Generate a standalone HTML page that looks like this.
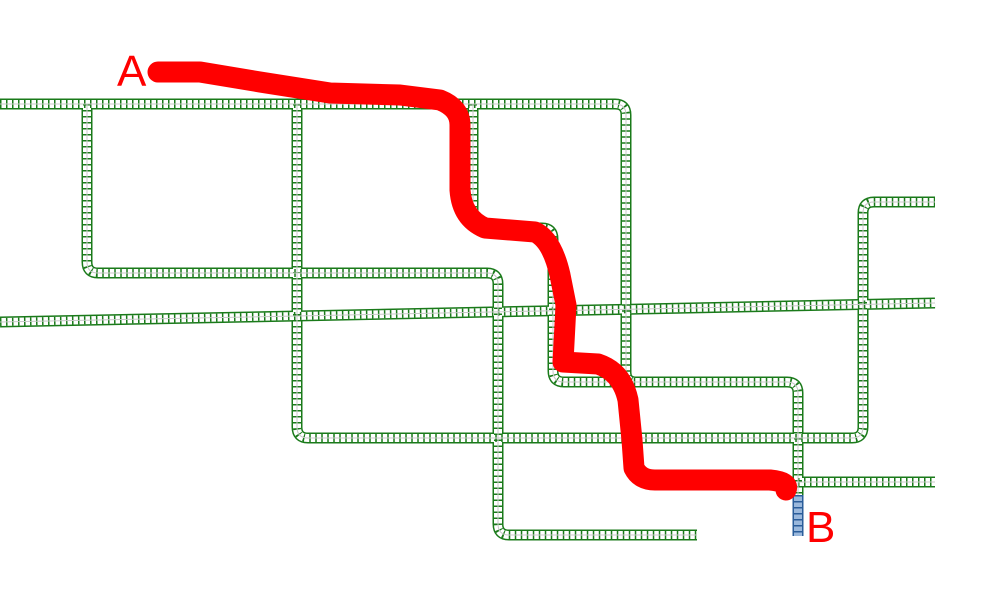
<!DOCTYPE html>
<html><head><meta charset="utf-8"><style>
html,body{margin:0;padding:0;background:#fff;width:999px;height:602px;overflow:hidden}
svg{display:block}
</style></head><body>
<svg width="999" height="602" viewBox="0 0 999 602" xmlns="http://www.w3.org/2000/svg">
<defs>
<g id="tracks" fill="none">
<path d="M0 104 H615 Q626 104 626 115 V372 Q626 382 636 382"/>
<path d="M87 104 V262 Q87 273 98 273 H487 Q498 273 498 284 V524 Q498 535 509 535 H697"/>
<path d="M297 104 V427 Q297 438 308 438 H852 Q863 438 863 427 V213 Q863 202 874 202 H935"/>
<path d="M473 104 V217 Q473 228 484 228 H542 Q553 228 553 239 V371 Q553 382 564 382 H787 Q798 382 798 393 V495"/>
<path d="M0 322 L935 303"/>
<path d="M798 482 H935"/>
</g>
</defs>
<use href="#tracks" stroke="#1a7a1a" stroke-width="11"/>
<use href="#tracks" stroke="#fff" stroke-width="8"/>
<use href="#tracks" stroke="#1a7a1a" stroke-width="8" stroke-dasharray="1.5 4.5"/>
<use href="#tracks" stroke="#c8c8c8" stroke-width="1"/>
<g fill="none">
<path d="M798 495 V536" stroke="#2a5d9a" stroke-width="11"/>
<path d="M798 495 V536" stroke="#9ab8dc" stroke-width="8"/>
<path d="M798 495 V536" stroke="#2a5d9a" stroke-width="8" stroke-dasharray="1.5 4.5"/>
</g>
<path d="M158 72 L200 72 L260 82 L330 93 L400 95 L440 100 Q460 108 460 125 L460 190 Q462 218 485 228 L535 232 Q552 240 560 275 L566 305 L563 362 L598 364 Q622 372 628 400 L632 440 L634 468 Q640 480 655 480 L770 480 Q790 482 786 490" fill="none" stroke="#ff0000" stroke-width="21" stroke-linecap="round" stroke-linejoin="round"/>
<text x="117" y="86" font-family="Liberation Sans, sans-serif" font-size="44" fill="#ff0000">A</text>
<text x="806" y="542" font-family="Liberation Sans, sans-serif" font-size="44" fill="#ff0000">B</text>
</svg>
</body></html>
